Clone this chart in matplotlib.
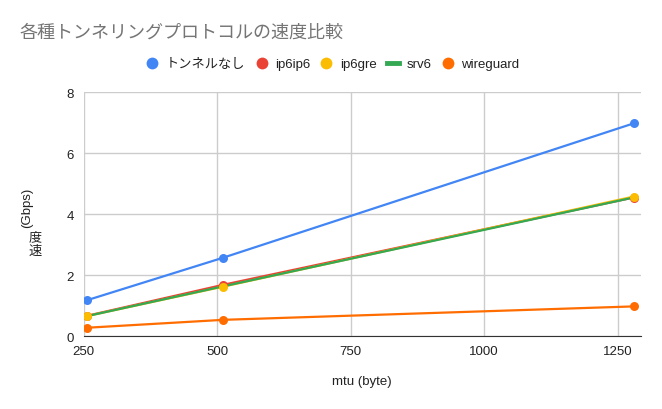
import matplotlib
matplotlib.use("Agg")
import matplotlib.pyplot as plt
from matplotlib.lines import Line2D

plt.rcParams["font.family"] = ["Liberation Sans", "Noto Sans CJK JP", "DejaVu Sans"]

mtu = [256, 512, 1280]
series_names = ["トンネルなし", "ip6ip6", "ip6gre", "srv6", "wireguard"]
no_tunnel = [1.18, 2.58, 6.98]
ip6ip6 = [0.67, 1.69, 4.55]
ip6gre = [0.66, 1.63, 4.58]
srv6 = [0.66, 1.64, 4.55]
wireguard = [0.28, 0.54, 0.98]
colors = ["#4285F4", "#EA4335", "#FBBC04", "#34A853", "#FF6D01"]
with_marker = [True, True, True, False, True]

fig = plt.figure(figsize=(6.62, 4.10), dpi=100)
ax = fig.add_axes([83.5 / 662, 1 - 337.3 / 410, (641 - 83.5) / 662, (337.3 - 93.3) / 410])

values = [no_tunnel, ip6ip6, ip6gre, srv6, wireguard]
for v, c in zip(values, colors):
    ax.plot(mtu, v, color=c, lw=1.6, zorder=2, solid_capstyle="round")
for v, c, m in zip(values, colors, with_marker):
    if m:
        ax.scatter(mtu, v, s=42, color=c, zorder=3, linewidths=0)

ax.set_xlim(250, 1294)
ax.set_ylim(0, 8)
ax.set_xticks([250, 500, 750, 1000, 1250])
ax.set_yticks([0, 2, 4, 6, 8])
ax.grid(True, color="#cccccc", lw=1)
ax.set_axisbelow(True)
for s in ["top", "right", "left"]:
    ax.spines[s].set_visible(False)
ax.spines["bottom"].set_color("#333333")
ax.tick_params(length=0, labelsize=9.5, colors="#222222", pad=6)
ax.tick_params(axis="y", pad=7)

ax.set_xlabel("mtu (byte)", fontsize=9.5, color="#222222", labelpad=13)

# y label: rotated latin part, upright kanji
fig.text(27 / 662, 1 - 208 / 410, "(Gbps)", rotation=90, ha="center", va="center",
         fontsize=9.5, color="#222222")
fig.text(35 / 662, 1 - 238.5 / 410, "度", ha="center", va="center",
         fontsize=9.5, color="#222222")
fig.text(35 / 662, 1 - 251.5 / 410, "速", ha="center", va="center",
         fontsize=9.5, color="#222222")

fig.text(20 / 662, 1 - 33 / 410, "各種トンネリングプロトコルの速度比較", fontsize=13,
         color="#757575", ha="left", va="center")

handles = []
for name, c, m in zip(series_names, colors, with_marker):
    if m:
        handles.append(Line2D([], [], marker="o", ls="none", color=c, markersize=8.5,
                              markeredgewidth=0, label=name))
    else:
        handles.append(Line2D([], [], color=c, lw=3.5, label=name))
fig.legend(handles=handles, loc="center", bbox_to_anchor=(333 / 662, 1 - 65 / 410),
           ncol=5, frameon=False, fontsize=9.5, handlelength=0.9, handletextpad=0.6,
           columnspacing=0.75, labelcolor="#222222")

fig.savefig("out.png", dpi=100, facecolor="white")
